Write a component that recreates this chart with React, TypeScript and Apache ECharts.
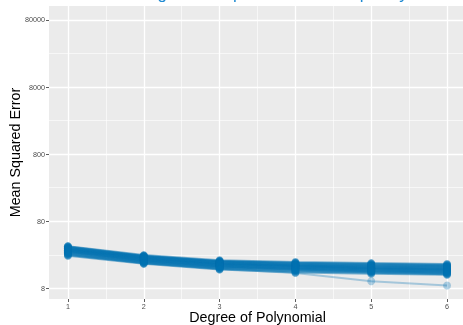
import React, { useEffect, useRef } from "react";
import * as echarts from "echarts";

const chartTitle = "Training Error Improves with Complexity";
const xTitle = "Degree of Polynomial";
const yTitle = "Mean Squared Error";

const degrees = [1, 2, 3, 4, 5, 6];
const yTicks = [8, 80, 800, 8000, 80000];
const xMinorGrid = [1.5, 2.5, 3.5, 4.5, 5.5];
const yMinorGrid = [25.3, 253, 2530, 25298];

const run01 = [34, 25, 21, 19.7, 19, 18.4];
const run02 = [33.5, 24.5, 20.5, 19.2, 18.5, 18];
const run03 = [33, 24.2, 20.3, 19, 18.2, 17.6];
const run04 = [32.5, 24, 20, 18.6, 17.8, 17.2];
const run05 = [32, 23.6, 19.7, 18.3, 17.5, 17];
const run06 = [31.6, 23.3, 19.4, 18, 17.2, 16.6];
const run07 = [31.2, 23, 19.1, 17.7, 16.9, 16.3];
const run08 = [30.8, 22.7, 18.9, 17.5, 16.6, 16];
const run09 = [30.4, 22.4, 18.6, 17.2, 16.4, 15.8];
const run10 = [30, 22.1, 18.4, 17, 16.1, 15.5];
const run11 = [29.6, 21.8, 18.1, 16.7, 15.9, 15.3];
const run12 = [29.2, 21.5, 17.9, 16.5, 15.7, 15.1];
const run13 = [28.8, 21.2, 17.6, 16.2, 15.4, 14.8];
const run14 = [28.4, 20.9, 17.4, 16, 15.2, 14.6];
const run15 = [28, 20.6, 17.1, 15.7, 14.9, 14.3];
const run16 = [27.5, 20.3, 16.9, 15.5, 14.7, 14.1];
const run17 = [27, 20, 16.6, 15.2, 14.4, 13.8];
const run18 = [26.5, 19.7, 16.3, 15, 14.2, 13.6];
const run19 = [26, 19.3, 16, 14.6, 13.9, 13.3];
const run20 = [25.3, 18.9, 15.6, 14.2, 13.6, 13];
const run21 = [24.5, 18.5, 15.2, 13.8, 13.2, 12.7];
const outlierRun = [25, 19, 15.5, 13.5, 10.2, 8.8];

const mainRuns = [
  run01, run02, run03, run04, run05, run06, run07, run08, run09, run10, run11,
  run12, run13, run14, run15, run16, run17, run18, run19, run20, run21,
];

const FONT = "Liberation Sans, Arial, Helvetica, sans-serif";
const BLUE = "#0072B2";

function runSeries(run: number[], opacity: number) {
  return {
    type: "line",
    data: degrees.map((d, i) => [d, run[i]]),
    symbol: "circle",
    symbolSize: 8,
    showSymbol: true,
    z: 10,
    silent: true,
    lineStyle: { color: BLUE, width: 2, opacity },
    itemStyle: { color: BLUE, opacity },
  };
}

export default function App() {
  const ref = useRef<HTMLDivElement>(null);

  useEffect(() => {
    if (!ref.current) return;
    const chart = echarts.init(ref.current, undefined, { renderer: "svg" });

    const gridMarks: any[] = [];
    degrees.forEach((d) =>
      gridMarks.push({ xAxis: d, lineStyle: { color: "#FFFFFF", width: 1.3, type: "solid" } })
    );
    xMinorGrid.forEach((d) =>
      gridMarks.push({ xAxis: d, lineStyle: { color: "#FFFFFF", width: 0.6, type: "solid" } })
    );
    yTicks.forEach((v) =>
      gridMarks.push({ yAxis: v, lineStyle: { color: "#FFFFFF", width: 1.3, type: "solid" } })
    );
    yMinorGrid.forEach((v) =>
      gridMarks.push({ yAxis: v, lineStyle: { color: "#FFFFFF", width: 0.6, type: "solid" } })
    );

    const dataSeries = [
      runSeries(outlierRun, 0.3),
      ...mainRuns.map((r) => runSeries(r, 0.5)),
    ];

    chart.setOption({
      animation: false,
      textStyle: { fontFamily: FONT },
      graphic: [
        {
          type: "text",
          x: 257,
          y: 2,
          style: {
            text: chartTitle,
            fill: "#1F8AD2",
            font: `17px ${FONT}`,
            textAlign: "center",
            textVerticalAlign: "bottom",
          },
        },
      ],
      grid: {
        left: 49,
        top: 6,
        width: 417,
        height: 293,
        show: true,
        backgroundColor: "#EBEBEB",
        borderWidth: 0,
        containLabel: false,
        outerBoundsMode: "none",
      },
      xAxis: {
        type: "value",
        min: 0.75,
        max: 6.25,
        axisLine: { show: false },
        axisTick: {
          show: true,
          length: 3,
          customValues: degrees,
          lineStyle: { color: "#333333", width: 0.8 },
        },
        axisLabel: {
          show: true,
          customValues: degrees,
          fontSize: 7.2,
          lineHeight: 8,
          color: "#4D4D4D",
          margin: 3,
          fontFamily: FONT,
        },
        splitLine: { show: false },
        name: xTitle,
        nameLocation: "middle",
        nameGap: 11,
        nameMoveOverlap: false,
        nameTextStyle: { fontSize: 14.3, color: "#000000", fontFamily: FONT },
      },
      yAxis: {
        type: "log",
        logBase: 10,
        min: 5.54,
        max: 129300,
        axisLine: { show: false },
        axisTick: {
          show: true,
          length: 3,
          customValues: yTicks,
          lineStyle: { color: "#333333", width: 0.8 },
        },
        axisLabel: {
          show: true,
          customValues: yTicks,
          formatter: (v: number) => String(Math.round(v)),
          fontSize: 7.2,
          color: "#4D4D4D",
          margin: 4,
          fontFamily: FONT,
        },
        splitLine: { show: false },
        minorSplitLine: { show: false },
        name: yTitle,
        nameLocation: "middle",
        nameGap: 27,
        nameMoveOverlap: false,
        nameTextStyle: { fontSize: 14.3, color: "#000000", fontFamily: FONT },
      },
      series: [
        {
          type: "line",
          data: [],
          silent: true,
          z: 1,
          markLine: {
            silent: true,
            z: 1,
            symbol: ["none", "none"],
            label: { show: false },
            data: gridMarks,
          },
        },
        ...dataSeries,
      ],
    });

    return () => chart.dispose();
  }, []);

  return (
    <div
      ref={ref}
      style={{ position: "fixed", left: 0, top: 0, width: 463, height: 325 }}
    />
  );
}
